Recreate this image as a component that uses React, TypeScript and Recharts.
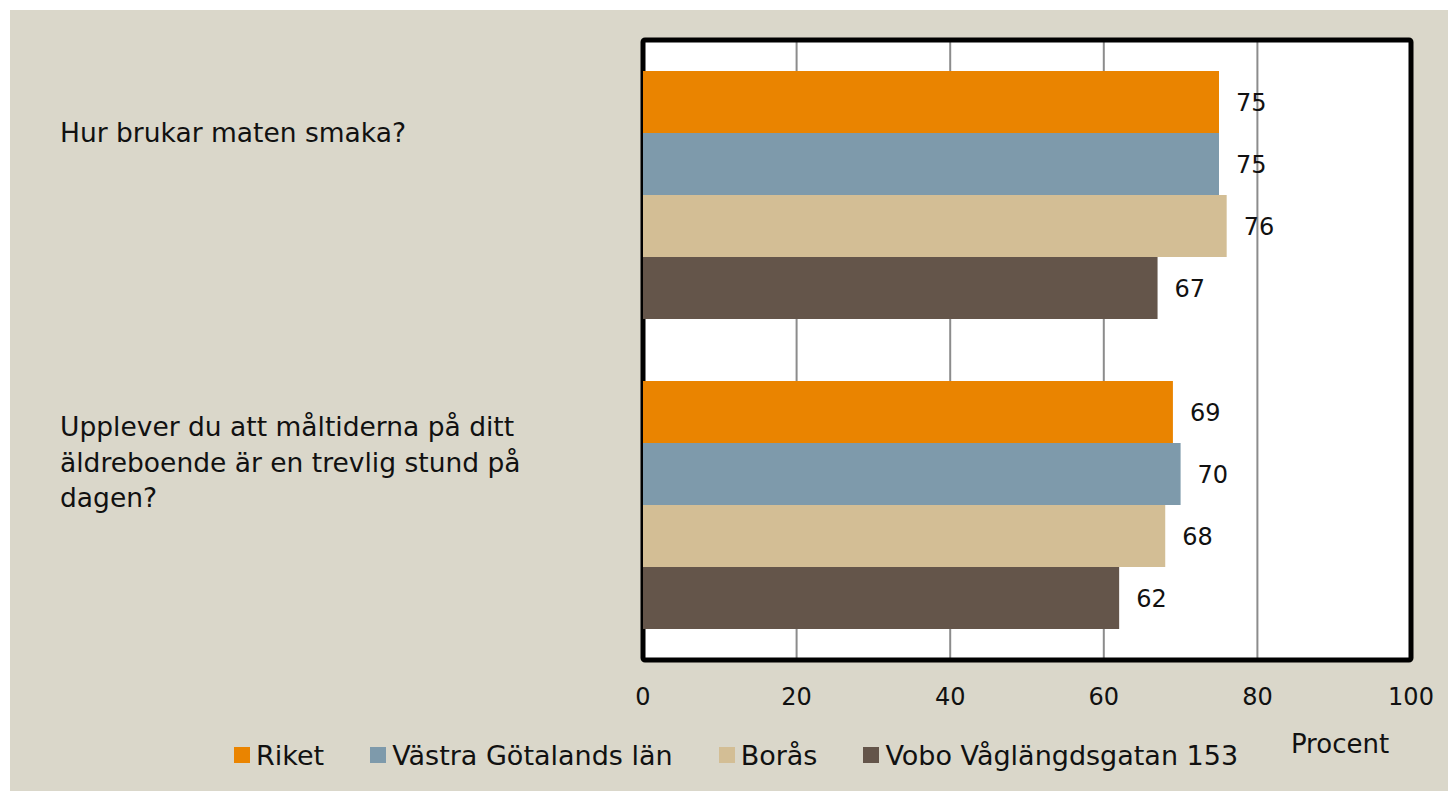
import React from "react";
import {
  BarChart,
  Bar,
  XAxis,
  YAxis,
  CartesianGrid,
  ReferenceArea,
  LabelList,
  Label,
} from "recharts";

const categories = [
  "Hur brukar maten smaka?",
  "Upplever du att måltiderna på ditt äldreboende är en trevlig stund på dagen?",
];
const riket = [75, 69];
const vastraGotaland = [75, 70];
const boras = [76, 68];
const vobo = [67, 62];
const xTicks = [0, 20, 40, 60, 80, 100];

const series = [
  { key: "riket", name: "Riket", color: "#EA8400" },
  { key: "vg", name: "Västra Götalands län", color: "#7E9AAB" },
  { key: "boras", name: "Borås", color: "#D3BE95" },
  { key: "vobo", name: "Vobo Våglängdsgatan 153", color: "#64554A" },
];

const data = categories.map((q, i) => ({
  q,
  riket: riket[i],
  vg: vastraGotaland[i],
  boras: boras[i],
  vobo: vobo[i],
}));

const TEXT = "#111111";
const FONT = "'DejaVu Sans', sans-serif";

// greedy word wrap, like the category labels in the original
const wrap = (s: string, max: number) => {
  const lines: string[] = [];
  let cur = "";
  s.split(" ").forEach((w) => {
    if (cur && (cur + " " + w).length > max) {
      lines.push(cur);
      cur = w;
    } else {
      cur = cur ? cur + " " + w : w;
    }
  });
  if (cur) lines.push(cur);
  return lines;
};

const CategoryTick = (props: any) => {
  const { y, payload } = props;
  const lines = wrap(String(payload.value), 35);
  const first = y - 53 - 8 * (lines.length - 1);
  return (
    <text x={50} y={first} fontSize={26.5} fill={TEXT} textAnchor="start">
      {lines.map((l, i) => (
        <tspan key={i} x={50} y={first + i * 35.5}>
          {l}
        </tspan>
      ))}
    </text>
  );
};

const ProcentLabel = (props: any) => {
  const vb = props.viewBox || {};
  return (
    <text
      x={vb.x + vb.width - 71}
      y={vb.y + 93}
      textAnchor="middle"
      fontSize={26}
      fill={TEXT}
    >
      Procent
    </text>
  );
};

export default function App() {
  return (
    <div
      style={{
        position: "absolute",
        left: 0,
        top: 0,
        width: 1448,
        height: 791,
        background: "#fff",
        fontFamily: FONT,
      }}
    >
      <div
        style={{
          position: "absolute",
          left: 10,
          top: 10,
          width: 1438,
          height: 781,
          background: "#DAD7CA",
        }}
      >
        <BarChart
          layout="vertical"
          width={1438}
          height={781}
          data={data}
          margin={{ top: 30, right: 37, left: 0, bottom: 31 }}
          barCategoryGap="10%"
          barGap={0}
        >
          <CartesianGrid
            horizontal={false}
            stroke="#8C8C8C"
            strokeWidth={2}
            fill="#FFFFFF"
          />
          <ReferenceArea
            x1={0}
            x2={100}
            fill="none"
            stroke="#000"
            strokeWidth={5}
            radius={2}
            ifOverflow="visible"
          />
          <XAxis
            type="number"
            domain={[0, 100]}
            ticks={xTicks}
            axisLine={false}
            tickLine={false}
            tickMargin={22}
            height={100}
            tick={{ fill: TEXT, fontSize: 24 }}
            interval={0}
          >
            <Label content={<ProcentLabel />} />
          </XAxis>
          <YAxis
            type="category"
            dataKey="q"
            width={633}
            axisLine={false}
            tickLine={false}
            tick={<CategoryTick />}
            interval={0}
          />
          {series.map((s) => (
            <Bar
              key={s.key}
              dataKey={s.key}
              name={s.name}
              fill={s.color}
              isAnimationActive={false}
            >
              <LabelList
                dataKey={s.key}
                position="right"
                offset={17}
                fill={TEXT}
                fontSize={24}
              />
            </Bar>
          ))}
        </BarChart>
        <div
          style={{
            position: "absolute",
            left: 224,
            top: 729,
            height: 32,
            display: "flex",
            alignItems: "center",
            fontSize: 27,
            color: TEXT,
            whiteSpace: "nowrap",
          }}
        >
          {series.map((s, i) => (
            <div
              key={s.key}
              style={{
                display: "flex",
                alignItems: "center",
                marginLeft: i === 0 ? 0 : 46,
              }}
            >
              <span
                style={{
                  width: 16,
                  height: 16,
                  background: s.color,
                  marginRight: 6,
                  display: "inline-block",
                }}
              />
              <span>{s.name}</span>
            </div>
          ))}
        </div>
      </div>
    </div>
  );
}
